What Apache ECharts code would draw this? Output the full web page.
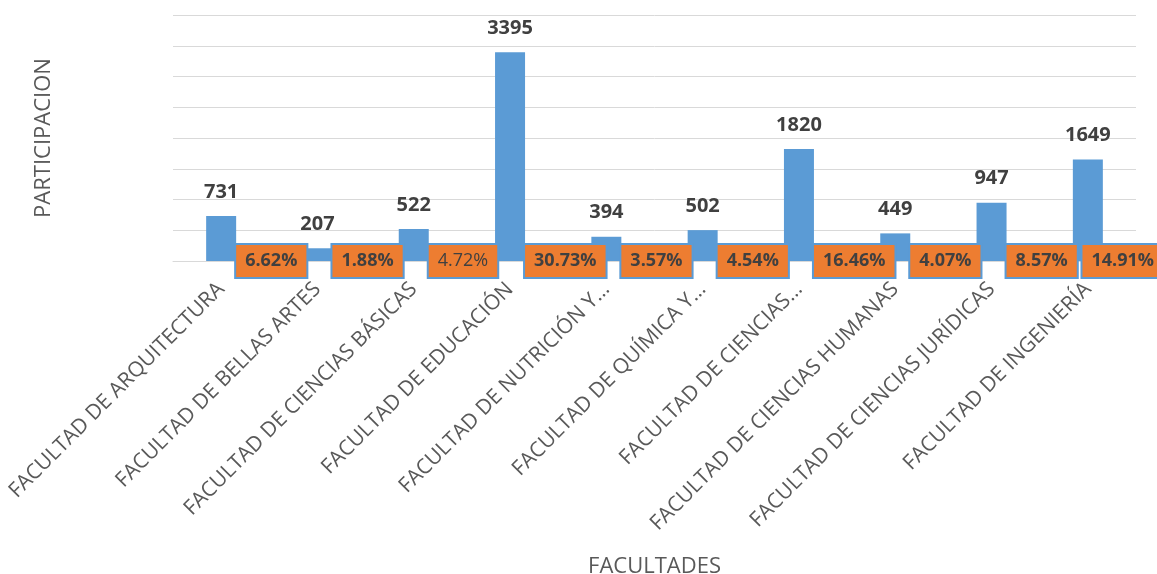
<!DOCTYPE html>
<html>
<head>
<meta charset="utf-8">
<title>Participación por facultad</title>
<script src="https://cdn.jsdelivr.net/npm/echarts@6/dist/echarts.min.js"></script>
<style>
  html, body { margin: 0; padding: 0; background: #ffffff; }
  #chart { width: 1157px; height: 574px; }
</style>
</head>
<body>
<div id="chart"></div>
<script>
// Facultades (etiquetas del eje de categorías)
const categories = [
  'FACULTAD DE ARQUITECTURA',
  'FACULTAD DE BELLAS ARTES',
  'FACULTAD DE CIENCIAS BÁSICAS',
  'FACULTAD DE EDUCACIÓN',
  'FACULTAD DE NUTRICIÓN Y…',
  'FACULTAD DE QUÍMICA Y…',
  'FACULTAD DE CIENCIAS…',
  'FACULTAD DE CIENCIAS HUMANAS',
  'FACULTAD DE CIENCIAS JURÍDICAS',
  'FACULTAD DE INGENIERÍA'
];

// Número de participantes por facultad
const participantes = [731, 207, 522, 3395, 394, 502, 1820, 449, 947, 1649];

// Porcentaje de participación (fracción)
const porcentajes = [0.0662, 0.0188, 0.0472, 0.3073, 0.0357, 0.0454, 0.1646, 0.0407, 0.0857, 0.1491];

// Escala del eje de valores
const yMin = 0;
const yMax = 4000;
const yStep = 500;

const TEXT_DARK = '#404040';
const TEXT_AXIS = '#595959';
const BLUE = '#5B9BD5';
const ORANGE = '#ED7D31';
const GRID = '#D9D9D9';
const CHART_W = 1157;

const chart = echarts.init(document.getElementById('chart'), null, { renderer: 'canvas' });

const option = {
  animation: false,
  textStyle: { fontFamily: '"Open Sans", "Liberation Sans", sans-serif' },
  grid: {
    left: 173, right: 21, top: 15, bottom: 313,
    containLabel: false,
    outerBoundsMode: 'none'
  },
  xAxis: {
    type: 'category',
    data: categories,
    name: 'FACULTADES',
    nameLocation: 'middle',
    nameGap: 295,
    nameTextStyle: { fontSize: 22, color: TEXT_AXIS },
    axisLine: { show: true, lineStyle: { color: GRID, width: 1 } },
    axisTick: { show: false },
    axisLabel: {
      interval: 0,
      rotate: 45,
      margin: 25,
      fontSize: 21,
      color: TEXT_AXIS
    }
  },
  yAxis: {
    type: 'value',
    min: yMin,
    max: yMax,
    interval: yStep,
    name: 'PARTICIPACION',
    nameLocation: 'middle',
    nameGap: 118,
    nameRotate: 90,
    nameTextStyle: { fontSize: 22, color: TEXT_AXIS },
    axisLine: { show: false },
    axisTick: { show: false },
    axisLabel: { show: false },
    splitLine: { lineStyle: { color: GRID, width: 1 } }
  },
  series: [
    {
      name: 'Participantes',
      type: 'bar',
      data: participantes,
      barWidth: 30,
      itemStyle: { color: BLUE },
      label: {
        show: true,
        position: 'top',
        distance: 14,
        fontSize: 20,
        fontWeight: 'bold',
        color: TEXT_DARK
      },
      z: 2
    },
    {
      name: 'Porcentaje',
      type: 'bar',
      data: porcentajes.map((v, i) => ({
        value: v,
        // la etiqueta de Ciencias Básicas va sin negrita
        label: i === 2 ? { fontWeight: 'normal' } : undefined
      })),
      barWidth: 30,
      barGap: '-100%',
      itemStyle: { color: ORANGE },
      label: {
        show: true,
        position: 'right',
        distance: 0,
        formatter: p => (p.value * 100).toFixed(2) + '%',
        fontSize: 18,
        fontWeight: 'bold',
        color: TEXT_DARK,
        lineHeight: 20,
        backgroundColor: ORANGE,
        borderColor: BLUE,
        borderWidth: 2,
        padding: [6, 9]
      },
      // mantiene la caja dentro del borde derecho del lienzo
      labelLayout: params => {
        const r = params.labelRect;
        const over = r.x + r.width - (CHART_W + 8);
        return over > 0 ? { dx: -over } : {};
      },
      z: 3
    }
  ]
};

chart.setOption(option);
</script>
</body>
</html>
